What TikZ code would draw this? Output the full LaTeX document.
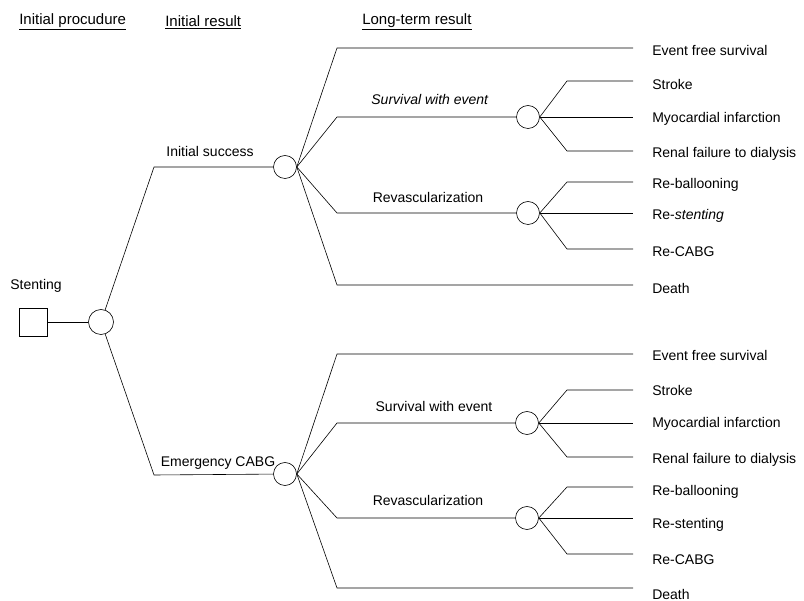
\documentclass[tikz,border=0pt]{standalone}
\usepackage{fontspec}
\setmainfont{Liberation Sans}
\tikzset{
  chance/.style={draw,circle,minimum size=23pt,inner sep=0pt},
  decision/.style={draw,minimum size=28pt,inner sep=0pt},
  lbl/.style={font=\fontsize{14}{16}\selectfont,inner sep=0pt},
  issue/.style={lbl,anchor=west},
  titre/.style={font=\fontsize{15}{18}\selectfont,inner sep=0pt,anchor=west},
}
\begin{document}
\begin{tikzpicture}[x=1pt,y=-1pt,line width=0.6pt]
\useasboundingbox (0,0) rectangle (804,601);
% en-têtes
\node[titre] (tProc) at (19,22) {\underline{Initial procudure}};
\node[titre] (tInit) at (165,22) {\underline{Initial result}};
\node[titre] (tLong) at (362,22) {\underline{Long-term result}};
% coudes et fins de lignes
\coordinate (coude) at (337,0);
\coordinate (coude2) at (567,0);
% décision et premier hasard
\node[decision] (stent) at (33,322) {};
\node[lbl] (stentLbl) at (36,286) {Stenting};
\node[chance,minimum size=25pt] (root) at (101,322) {};
\draw (stent) -- (root);
% branche haute : succès initial
\node[chance] (ok) at (285,167) {};
\coordinate (okK) at (154,167);
\draw (root) -- (okK) -- (ok);
\node[lbl] (okLbl) at (210,152) {Initial success};
\node[chance] (okSwe) at (528,117) {};
\node[chance] (okRev) at (528,213) {};
\coordinate (okEfs) at (633,48);
\coordinate (okStroke) at (633,81);
\coordinate (okMi) at (633,117);
\coordinate (okRenal) at (633,151);
\coordinate (okBal) at (633,182);
\coordinate (okSten) at (633,213);
\coordinate (okCabg) at (633,249);
\coordinate (okDeath) at (633,285);
\draw (ok.east) -- (okEfs -| coude) -- (okEfs); % sans événement
\draw (ok.east) -- (okSwe -| coude) -- (okSwe); % avec événement
\draw (ok.east) -- (okRev -| coude) -- (okRev); % revascularisation
\draw (ok.east) -- (okDeath -| coude) -- (okDeath); % décès
\draw (okSwe.east) -- (okStroke -| coude2) -- (okStroke);
\draw (okSwe.east) -- (okMi);
\draw (okSwe.east) -- (okRenal -| coude2) -- (okRenal);
\draw (okRev.east) -- (okBal -| coude2) -- (okBal);
\draw (okRev.east) -- (okSten);
\draw (okRev.east) -- (okCabg -| coude2) -- (okCabg);
\node[lbl] (okSweLbl) at (430,99) {\textit{Survival with event}};
\node[lbl] (okRevLbl) at (428,197) {Revascularization};
\node[issue] (okEfsLbl) at (652,51) {Event free survival};
\node[issue] (okStrokeLbl) at (652,84) {Stroke};
\node[issue] (okMiLbl) at (652,119) {Myocardial infarction};
\node[issue] (okRenalLbl) at (652,154) {Renal failure to dialysis};
\node[issue] (okBalLbl) at (652,185) {Re-ballooning};
\node[issue] (okStenLbl) at (652,216) {Re-\textit{stenting}};
\node[issue] (okCabgLbl) at (652,252) {Re-CABG};
\node[issue] (okDeathLbl) at (652,288) {Death};
% branche basse : pontage en urgence
\node[chance] (em) at (285,474) {};
\coordinate (emK) at (154,475);
\draw (root) -- (emK) -- (em);
\node[lbl] (emLbl) at (218,463) {Emergency CABG};
\node[chance] (emSwe) at (527,423) {};
\node[chance] (emRev) at (527,518) {};
\coordinate (emEfs) at (633,354);
\coordinate (emStroke) at (633,390);
\coordinate (emMi) at (633,423);
\coordinate (emRenal) at (633,457);
\coordinate (emBal) at (633,487);
\coordinate (emSten) at (633,518);
\coordinate (emCabg) at (633,554);
\coordinate (emDeath) at (633,588);
\draw (em.east) -- (emEfs -| coude) -- (emEfs); % sans événement
\draw (em.east) -- (emSwe -| coude) -- (emSwe); % avec événement
\draw (em.east) -- (emRev -| coude) -- (emRev); % revascularisation
\draw (em.east) -- (emDeath -| coude) -- (emDeath); % décès
\draw (emSwe.east) -- (emStroke -| coude2) -- (emStroke);
\draw (emSwe.east) -- (emMi);
\draw (emSwe.east) -- (emRenal -| coude2) -- (emRenal);
\draw (emRev.east) -- (emBal -| coude2) -- (emBal);
\draw (emRev.east) -- (emSten);
\draw (emRev.east) -- (emCabg -| coude2) -- (emCabg);
\node[lbl] (emSweLbl) at (434,406) {Survival with event};
\node[lbl] (emRevLbl) at (428,500) {Revascularization};
\node[issue] (emEfsLbl) at (652,355) {Event free survival};
\node[issue] (emStrokeLbl) at (652,390) {Stroke};
\node[issue] (emMiLbl) at (652,424) {Myocardial infarction};
\node[issue] (emRenalLbl) at (652,460) {Renal failure to dialysis};
\node[issue] (emBalLbl) at (652,492) {Re-ballooning};
\node[issue] (emStenLbl) at (652,525) {Re-stenting};
\node[issue] (emCabgLbl) at (652,560) {Re-CABG};
\node[issue] (emDeathLbl) at (652,594) {Death};
\end{tikzpicture}
\end{document}
